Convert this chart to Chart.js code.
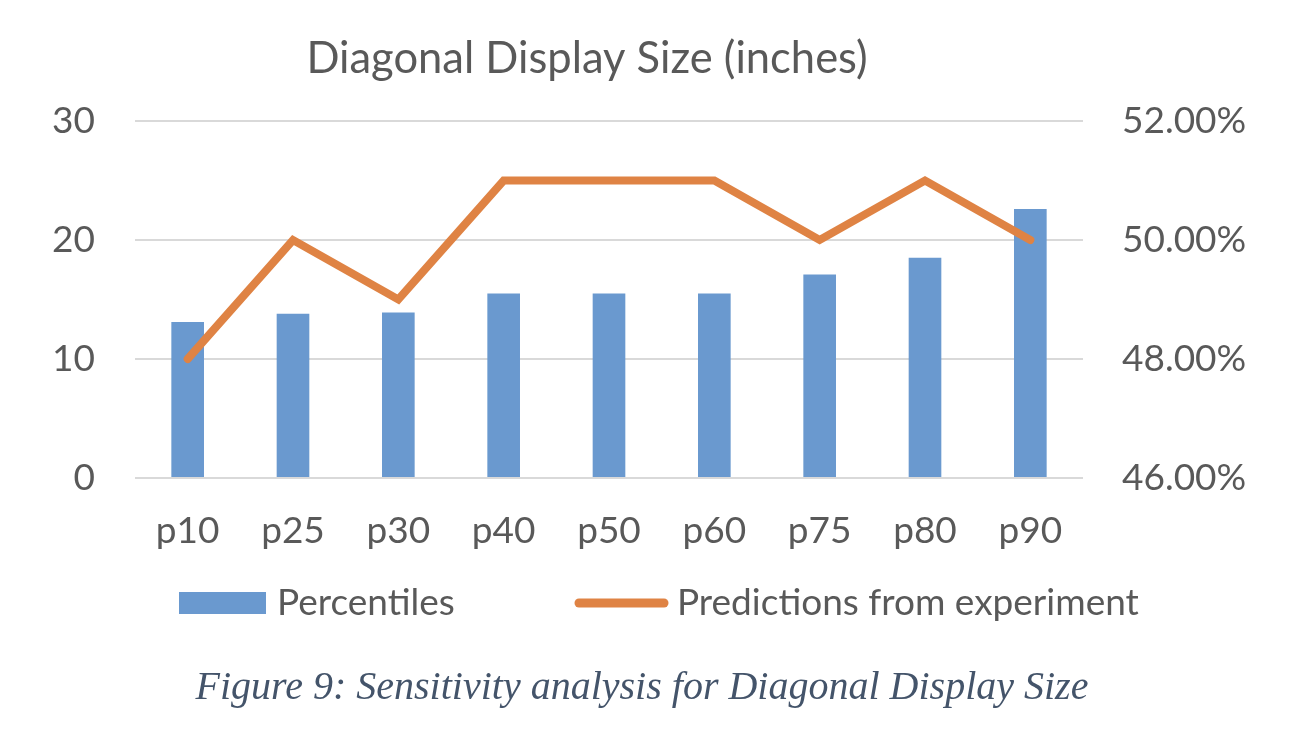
<!DOCTYPE html>
<html>
<head>
<meta charset="utf-8">
<script src="https://cdn.jsdelivr.net/npm/chart.js@4"></script>
<style>
    body { margin: 0; background: #fff; }
    #wrap { width: 1290px; height: 746px; position: relative; }
</style>
</head>
<body>
<div id="wrap"><canvas id="sizeChart"></canvas></div>
<script>
const labels = ['p10', 'p25', 'p30', 'p40', 'p50', 'p60', 'p75', 'p80', 'p90'];
const percentiles = [13.1, 13.8, 13.9, 15.5, 15.5, 15.5, 17.1, 18.5, 22.6];
const predictions = [48, 50, 49, 51, 51, 51, 50, 51, 50];   // percent
const leftTicks = [0, 10, 20, 30];
const rightTicks = [46, 48, 50, 52];

const chartTitle = 'Diagonal Display Size (inches)';
const caption = 'Figure 9: Sensitivity analysis for Diagonal Display Size';

const textGray = '#595959';
const barBlue = '#6A99CF';
const lineOrange = '#DF8344';

// title, legend and caption drawn on the canvas
const extras = {
    id: 'extras',
    afterDraw(chart) {
        const ctx = chart.ctx;
        ctx.save();
        ctx.fillStyle = textGray;
        ctx.textBaseline = 'alphabetic';

        ctx.font = '43.5px Lato';
        ctx.textAlign = 'center';
        ctx.fillText(chartTitle, 587, 73);

        const sets = chart.data.datasets;
        ctx.font = '37px Lato';
        ctx.textAlign = 'left';

        ctx.fillStyle = sets[1].backgroundColor;
        ctx.fillRect(179, 592, 87, 22);
        ctx.fillStyle = textGray;
        ctx.fillText(sets[1].label, 277, 615);

        ctx.strokeStyle = sets[0].borderColor;
        ctx.lineWidth = 9;
        ctx.lineCap = 'round';
        ctx.beginPath();
        ctx.moveTo(579, 603);
        ctx.lineTo(664, 603);
        ctx.stroke();
        ctx.fillText(sets[0].label, 677, 615);

        ctx.font = 'italic 40px "Liberation Serif"';
        ctx.fillStyle = '#44546A';
        ctx.textAlign = 'center';
        ctx.fillText(caption, 642, 699);
        ctx.restore();
    }
};

new Chart(document.getElementById('sizeChart').getContext('2d'), {
    type: 'bar',
    data: {
        labels: labels,
        datasets: [
            {
                type: 'line',
                label: 'Predictions from experiment',
                data: predictions,
                yAxisID: 'y1',
                borderColor: lineOrange,
                borderWidth: 8,
                borderCapStyle: 'round',
                borderJoinStyle: 'miter',
                pointRadius: 0,
                fill: false,
                tension: 0,
                order: 1
            },
            {
                type: 'bar',
                label: 'Percentiles',
                data: percentiles,
                yAxisID: 'y',
                backgroundColor: barBlue,
                borderWidth: 0,
                categoryPercentage: 1,
                barPercentage: 0.31,
                order: 2
            }
        ]
    },
    options: {
        responsive: true,
        maintainAspectRatio: false,
        animation: false,
        layout: {
            padding: { top: 121, bottom: 188, left: 0, right: 0 }
        },
        plugins: {
            legend: { display: false },
            title: { display: false },
            tooltip: { enabled: false }
        },
        scales: {
            x: {
                grid: { display: false },
                border: { display: false },
                ticks: {
                    color: textGray,
                    font: { family: 'Lato', size: 37 },
                    padding: 23,
                    maxRotation: 0
                },
                afterFit: (scale) => { scale.height = 80; }
            },
            y: {
                position: 'left',
                min: 0,
                max: 30,
                afterBuildTicks: (scale) => { scale.ticks = leftTicks.map(v => ({ value: v })); },
                grid: { color: '#D9D9D9', lineWidth: 2, drawTicks: false },
                border: { display: false },
                ticks: {
                    color: textGray,
                    font: { family: 'Lato', size: 37 },
                    padding: 40
                },
                afterFit: (scale) => { scale.width = 135; }
            },
            y1: {
                position: 'right',
                min: 46,
                max: 52,
                afterBuildTicks: (scale) => { scale.ticks = rightTicks.map(v => ({ value: v })); },
                grid: { display: false, drawTicks: false },
                border: { display: false },
                ticks: {
                    color: textGray,
                    font: { family: 'Lato', size: 37 },
                    padding: 39,
                    callback: (v) => v.toFixed(2) + '%'
                },
                afterFit: (scale) => { scale.width = 207; }
            }
        }
    },
    plugins: [extras]
});
</script>
</body>
</html>
